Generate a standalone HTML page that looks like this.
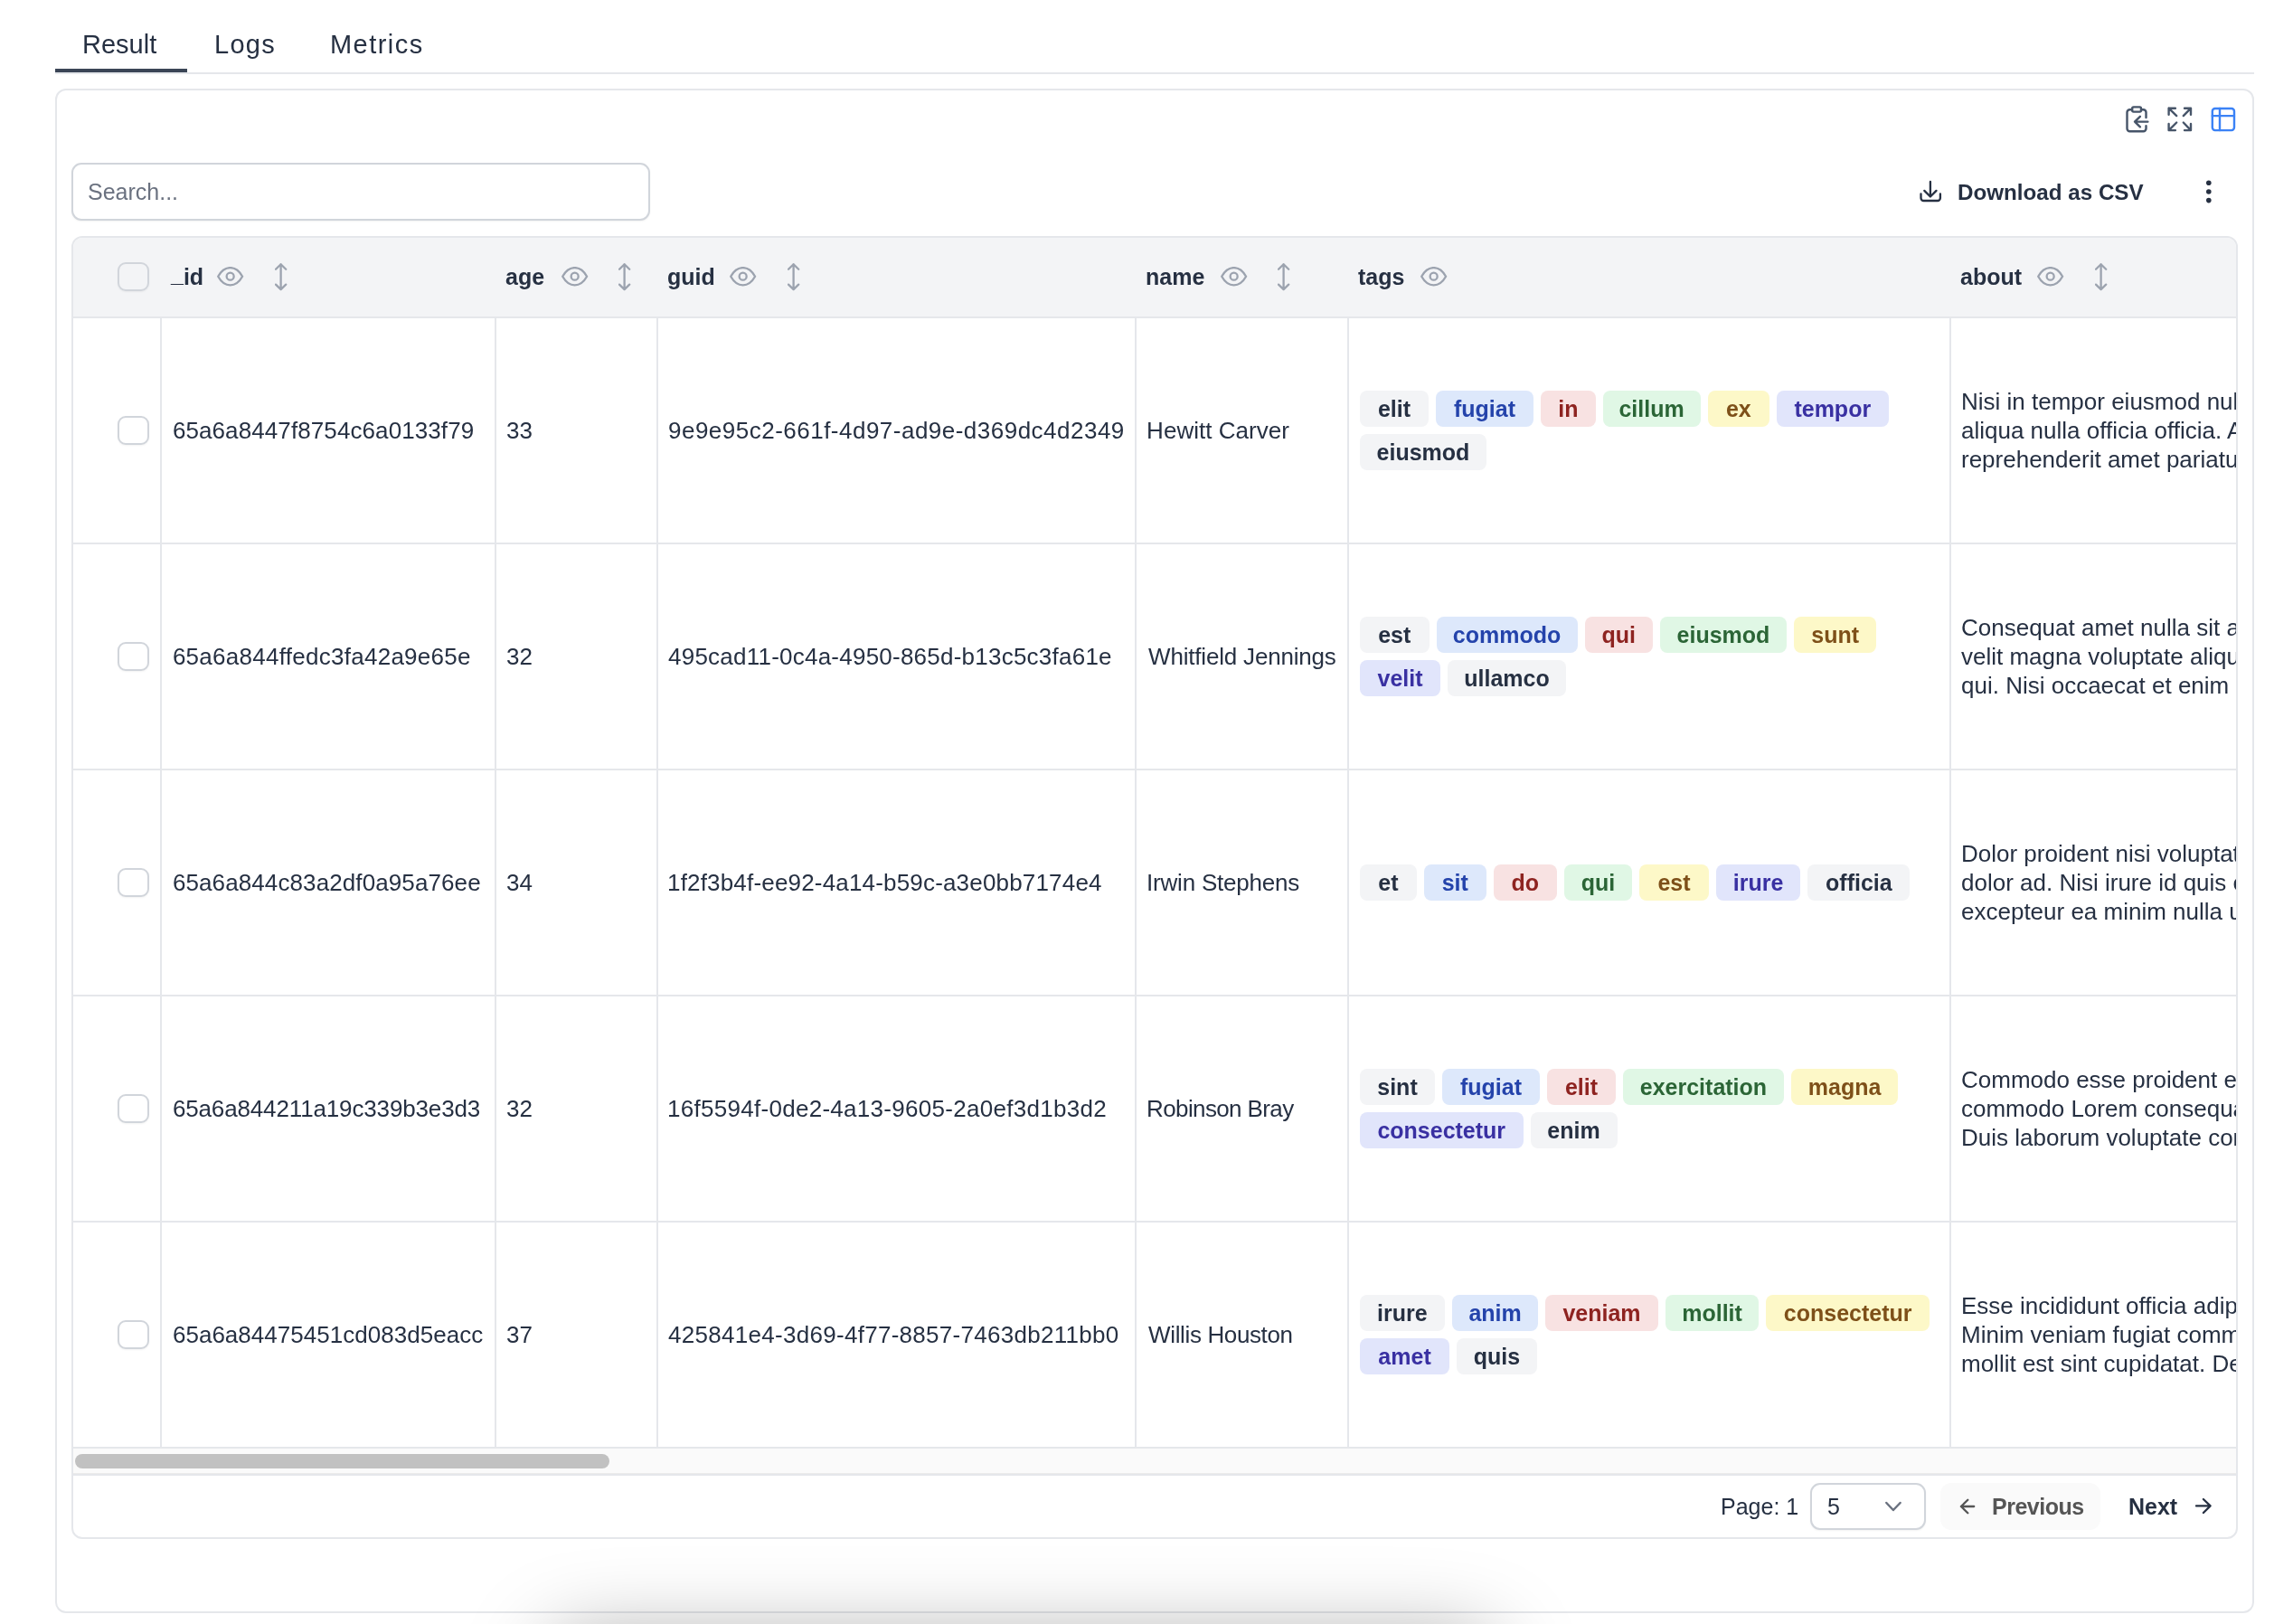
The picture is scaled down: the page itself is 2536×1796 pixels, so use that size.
<!DOCTYPE html>
<html><head><meta charset="utf-8"><title>Result</title>
<style>
*{box-sizing:border-box;margin:0;padding:0}
html,body{width:2536px;height:1796px;overflow:hidden;background:#fff;font-family:"Liberation Sans",sans-serif;color:#263042}
.a{position:absolute}
.tabbar{left:61px;top:0;width:2432px;height:82px;border-bottom:2px solid #e5e7eb}
.tab{position:absolute;top:29px;height:40px;line-height:40px;font-size:29px;color:#263042;white-space:nowrap}
.uline{left:61px;top:76px;width:146px;height:4px;background:#3b4556}
.card{left:61px;top:98px;width:2432px;height:1686px;border:2px solid #e5e7eb;border-radius:12px;background:#fff}
.search{left:79px;top:180px;width:640px;height:64px;border:2px solid #d1d5db;border-radius:11px;box-shadow:0 1px 2px rgba(0,0,0,.05);background:#fff}
.search span{position:absolute;left:16px;top:0;line-height:60px;font-size:25px;color:#6b7280}
.dl{left:2165px;top:193px;height:40px;line-height:40px;font-size:24.2px;font-weight:700;color:#263042;white-space:nowrap}
.tbl{left:79px;top:261px;width:2396px;height:1441px;border:2px solid #e5e7eb;border-radius:12px;overflow:hidden;background:#fff}
.hdr{left:0;top:0;width:2392px;height:89px;background:#f3f4f6;border-bottom:2px solid #e5e7eb}
.hc{position:absolute;top:0;height:87px;display:flex;align-items:center;font-size:25px;font-weight:700;color:#263042;white-space:nowrap}
.eye,.sort{fill:none;stroke:#9ca3af;stroke-width:2.2;stroke-linecap:round;stroke-linejoin:round;flex:none}
.eye{stroke-width:2.3px}
.sort{stroke-width:2.3px}
.row{position:absolute;left:0;width:2392px;height:250px;border-bottom:2px solid #e5e7eb}
.cell{position:absolute;top:0;height:248px;display:flex;align-items:center;border-left:2px solid #e5e7eb;font-size:26px;white-space:nowrap;overflow:hidden;color:#263042}
.cell.cb{border-left:none}
.chk{position:absolute;width:35px;height:32px;border:2px solid #d1d5db;border-radius:9px;background:#fff;box-shadow:0 1px 2px rgba(0,0,0,.05)}
.tagwrap{display:flex;flex-direction:column;gap:8px}
.tagline{display:flex;gap:8px}
.tag{height:40px;line-height:40px;padding:0;text-align:center;border-radius:8px;font-size:25px;font-weight:700;white-space:nowrap;flex:none}
.t-g{background:#f3f4f6;color:#263042}
.t-b{background:#dde8fb;color:#2443ab}
.t-r{background:#f8e2e2;color:#8e2320}
.t-gr{background:#e0f7e5;color:#2b6536}
.t-y{background:#fdf8c8;color:#7e5019}
.t-i{background:#e1e5fb;color:#3930a2}
.about{line-height:32px;font-size:26px}
.sbar{left:0;top:1339px;width:2392px;height:30px;background:#fafafa;border-bottom:2px solid #e5e7eb;box-shadow:inset 0 -1px 0 #ebebeb}
.thumb{left:2px;top:6px;width:591px;height:16px;border-radius:8px;background:#c1c1c1}
.pg{left:1903px;top:1646px;height:40px;line-height:40px;font-size:25px;color:#263042;white-space:nowrap}
.sel{left:2002px;top:1640px;width:128px;height:52px;border:2px solid #d1d5db;border-radius:11px;background:#fff;box-shadow:0 1px 2px rgba(0,0,0,.05)}
.sel span{position:absolute;left:17px;top:4px;line-height:40px;font-size:25px;color:#263042}
.prev{left:2146px;top:1640px;width:177px;height:52px;border-radius:12px;background:#fafafa}
.btxt{position:absolute;height:40px;line-height:40px;font-size:25px;font-weight:700;white-space:nowrap}
.ov{left:0;top:0;width:2536px;height:1796px;pointer-events:none}
.ov .s{fill:none;stroke-linecap:round;stroke-linejoin:round}
@media (max-width:1300px){html,body{width:1268px;height:898px}#root{transform:scale(.5);transform-origin:0 0}}
.shadow{left:605px;top:1810px;width:1050px;height:200px;border-radius:40px;box-shadow:0 0 90px 0 rgba(0,0,0,.34)}
</style></head><body>

<div id="root" class="a" style="left:0;top:0;width:2536px;height:1796px;will-change:transform;overflow:hidden">
<div class="a tabbar"></div>
<div class="tab" style="left:91px">Result</div>
<div class="tab" style="left:237px;letter-spacing:1.3px">Logs</div>
<div class="tab" style="left:365px;letter-spacing:1.45px">Metrics</div>
<div class="a uline"></div>
<div class="a card"></div>
<div class="a search"><span>Search...</span></div>
<div class="a dl">Download as CSV</div>
<div class="a tbl">
<div class="a hdr">
<div class="chk" style="left:49px;top:27px;background:transparent"></div>
<div class="hc" style="left:108px"><span style="position:relative;top:-3px">_</span>id</div>
<svg class="eye" style="position:absolute;left:159.2px;top:32.2px" width="30" height="22" viewBox="0 0 30 22"><path d="M28.1 10.7c-3.59 6.4 -8.07 9.6 -13.45 9.6c-5.38 0 -9.86 -3.2 -13.45 -9.6c3.59 -6.4 8.07 -9.6 13.45 -9.6c5.38 0 9.86 3.2 13.45 9.6" /><circle cx="14.65" cy="10.7" r="4"/></svg>
<svg class="sort" style="position:absolute;left:223.4px;top:27.9px" width="14" height="31" viewBox="0 0 14 31"><path d="M6.6 1.2V29.1M1.0 6.7L6.6 1.2L12.2 6.7M1.0 23.6L6.6 29.1L12.2 23.6"/></svg>
<div class="hc" style="left:478px">age</div>
<svg class="eye" style="position:absolute;left:539.7px;top:32.2px" width="30" height="22" viewBox="0 0 30 22"><path d="M28.1 10.7c-3.59 6.4 -8.07 9.6 -13.45 9.6c-5.38 0 -9.86 -3.2 -13.45 -9.6c3.59 -6.4 8.07 -9.6 13.45 -9.6c5.38 0 9.86 3.2 13.45 9.6" /><circle cx="14.65" cy="10.7" r="4"/></svg>
<svg class="sort" style="position:absolute;left:603.0px;top:27.9px" width="14" height="31" viewBox="0 0 14 31"><path d="M6.6 1.2V29.1M1.0 6.7L6.6 1.2L12.2 6.7M1.0 23.6L6.6 29.1L12.2 23.6"/></svg>
<div class="hc" style="left:657px">guid</div>
<svg class="eye" style="position:absolute;left:726.2px;top:32.2px" width="30" height="22" viewBox="0 0 30 22"><path d="M28.1 10.7c-3.59 6.4 -8.07 9.6 -13.45 9.6c-5.38 0 -9.86 -3.2 -13.45 -9.6c3.59 -6.4 8.07 -9.6 13.45 -9.6c5.38 0 9.86 3.2 13.45 9.6" /><circle cx="14.65" cy="10.7" r="4"/></svg>
<svg class="sort" style="position:absolute;left:790.1px;top:27.9px" width="14" height="31" viewBox="0 0 14 31"><path d="M6.6 1.2V29.1M1.0 6.7L6.6 1.2L12.2 6.7M1.0 23.6L6.6 29.1L12.2 23.6"/></svg>
<div class="hc" style="left:1186px">name</div>
<svg class="eye" style="position:absolute;left:1268.7px;top:32.2px" width="30" height="22" viewBox="0 0 30 22"><path d="M28.1 10.7c-3.59 6.4 -8.07 9.6 -13.45 9.6c-5.38 0 -9.86 -3.2 -13.45 -9.6c3.59 -6.4 8.07 -9.6 13.45 -9.6c5.38 0 9.86 3.2 13.45 9.6" /><circle cx="14.65" cy="10.7" r="4"/></svg>
<svg class="sort" style="position:absolute;left:1332.0px;top:27.9px" width="14" height="31" viewBox="0 0 14 31"><path d="M6.6 1.2V29.1M1.0 6.7L6.6 1.2L12.2 6.7M1.0 23.6L6.6 29.1L12.2 23.6"/></svg>
<div class="hc" style="left:1421px">tags</div>
<svg class="eye" style="position:absolute;left:1490.1px;top:32.2px" width="30" height="22" viewBox="0 0 30 22"><path d="M28.1 10.7c-3.59 6.4 -8.07 9.6 -13.45 9.6c-5.38 0 -9.86 -3.2 -13.45 -9.6c3.59 -6.4 8.07 -9.6 13.45 -9.6c5.38 0 9.86 3.2 13.45 9.6" /><circle cx="14.65" cy="10.7" r="4"/></svg>
<div class="hc" style="left:2087px">about</div>
<svg class="eye" style="position:absolute;left:2172.0px;top:32.2px" width="30" height="22" viewBox="0 0 30 22"><path d="M28.1 10.7c-3.59 6.4 -8.07 9.6 -13.45 9.6c-5.38 0 -9.86 -3.2 -13.45 -9.6c3.59 -6.4 8.07 -9.6 13.45 -9.6c5.38 0 9.86 3.2 13.45 9.6" /><circle cx="14.65" cy="10.7" r="4"/></svg>
<svg class="sort" style="position:absolute;left:2236.0px;top:27.9px" width="14" height="31" viewBox="0 0 14 31"><path d="M6.6 1.2V29.1M1.0 6.7L6.6 1.2L12.2 6.7M1.0 23.6L6.6 29.1L12.2 23.6"/></svg>
</div>
<div class="row" style="top:89px">
<div class="cell cb" style="left:0;width:96px"><div class="chk" style="left:49px;top:108px"></div></div>
<div class="cell" style="left:96px;width:370px;padding-left:11.9px;letter-spacing:0.096px">65a6a8447f8754c6a0133f79</div>
<div class="cell" style="left:466px;width:179px;padding-left:11px">33</div>
<div class="cell" style="left:645px;width:529px;padding-left:11.0px;letter-spacing:0.489px">9e9e95c2-661f-4d97-ad9e-d369dc4d2349</div>
<div class="cell" style="left:1174px;width:235px;padding-left:11.1px;letter-spacing:0.03px">Hewitt Carver</div>
<div class="cell" style="left:1409px;width:666px;padding-left:12px"><div class="tagwrap"><div class="tagline"><span class="tag t-g" style="width:76px">elit</span><span class="tag t-b" style="width:108px">fugiat</span><span class="tag t-r" style="width:60.6px">in</span><span class="tag t-gr" style="width:108px">cillum</span><span class="tag t-y" style="width:68.4px">ex</span><span class="tag t-i" style="width:123.6px">tempor</span></div><div class="tagline"><span class="tag t-g" style="width:140px">eiusmod</span></div></div></div>
<div class="cell" style="left:2075px;width:317px;padding-left:11px"><div class="about">Nisi in tempor eiusmod nulla<br>aliqua nulla officia officia. Aute<br>reprehenderit amet pariatur</div></div>
</div>
<div class="row" style="top:339px">
<div class="cell cb" style="left:0;width:96px"><div class="chk" style="left:49px;top:108px"></div></div>
<div class="cell" style="left:96px;width:370px;padding-left:11.9px;letter-spacing:0.27px">65a6a844ffedc3fa42a9e65e</div>
<div class="cell" style="left:466px;width:179px;padding-left:11px">32</div>
<div class="cell" style="left:645px;width:529px;padding-left:11.0px;letter-spacing:0.234px">495cad11-0c4a-4950-865d-b13c5c3fa61e</div>
<div class="cell" style="left:1174px;width:235px;padding-left:13.1px;letter-spacing:-0.194px">Whitfield Jennings</div>
<div class="cell" style="left:1409px;width:666px;padding-left:12px"><div class="tagwrap"><div class="tagline"><span class="tag t-g" style="width:76.5px">est</span><span class="tag t-b" style="width:156px">commodo</span><span class="tag t-r" style="width:75.5px">qui</span><span class="tag t-gr" style="width:140px">eiusmod</span><span class="tag t-y" style="width:91.3px">sunt</span></div><div class="tagline"><span class="tag t-i" style="width:89px">velit</span><span class="tag t-g" style="width:131px">ullamco</span></div></div></div>
<div class="cell" style="left:2075px;width:317px;padding-left:11px"><div class="about">Consequat amet nulla sit aute<br>velit magna voluptate aliqua<br>qui. Nisi occaecat et enim aute</div></div>
</div>
<div class="row" style="top:589px">
<div class="cell cb" style="left:0;width:96px"><div class="chk" style="left:49px;top:108px"></div></div>
<div class="cell" style="left:96px;width:370px;padding-left:11.9px;letter-spacing:0.104px">65a6a844c83a2df0a95a76ee</div>
<div class="cell" style="left:466px;width:179px;padding-left:11px">34</div>
<div class="cell" style="left:645px;width:529px;padding-left:10.0px;letter-spacing:0.18px">1f2f3b4f-ee92-4a14-b59c-a3e0bb7174e4</div>
<div class="cell" style="left:1174px;width:235px;padding-left:11.1px;letter-spacing:-0.215px">Irwin Stephens</div>
<div class="cell" style="left:1409px;width:666px;padding-left:12px"><div class="tagwrap"><div class="tagline"><span class="tag t-g" style="width:62.8px">et</span><span class="tag t-b" style="width:69px">sit</span><span class="tag t-r" style="width:70px">do</span><span class="tag t-gr" style="width:75.5px">qui</span><span class="tag t-y" style="width:76.5px">est</span><span class="tag t-i" style="width:93.7px">irure</span><span class="tag t-g" style="width:112.8px">officia</span></div></div></div>
<div class="cell" style="left:2075px;width:317px;padding-left:11px"><div class="about">Dolor proident nisi voluptate<br>dolor ad. Nisi irure id quis esse<br>excepteur ea minim nulla ut</div></div>
</div>
<div class="row" style="top:839px">
<div class="cell cb" style="left:0;width:96px"><div class="chk" style="left:49px;top:108px"></div></div>
<div class="cell" style="left:96px;width:370px;padding-left:11.9px;letter-spacing:-0.143px">65a6a844211a19c339b3e3d3</div>
<div class="cell" style="left:466px;width:179px;padding-left:11px">32</div>
<div class="cell" style="left:645px;width:529px;padding-left:10.0px;letter-spacing:0.286px">16f5594f-0de2-4a13-9605-2a0ef3d1b3d2</div>
<div class="cell" style="left:1174px;width:235px;padding-left:11.1px;letter-spacing:-0.625px">Robinson Bray</div>
<div class="cell" style="left:1409px;width:666px;padding-left:12px"><div class="tagwrap"><div class="tagline"><span class="tag t-g" style="width:83px">sint</span><span class="tag t-b" style="width:108px">fugiat</span><span class="tag t-r" style="width:76px">elit</span><span class="tag t-gr" style="width:177.9px">exercitation</span><span class="tag t-y" style="width:118.5px">magna</span></div><div class="tagline"><span class="tag t-i" style="width:180.5px">consectetur</span><span class="tag t-g" style="width:96.1px">enim</span></div></div></div>
<div class="cell" style="left:2075px;width:317px;padding-left:11px"><div class="about">Commodo esse proident ex<br>commodo Lorem consequat<br>Duis laborum voluptate commodo</div></div>
</div>
<div class="row" style="top:1089px">
<div class="cell cb" style="left:0;width:96px"><div class="chk" style="left:49px;top:108px"></div></div>
<div class="cell" style="left:96px;width:370px;padding-left:11.9px;letter-spacing:0.035px">65a6a84475451cd083d5eacc</div>
<div class="cell" style="left:466px;width:179px;padding-left:11px">37</div>
<div class="cell" style="left:645px;width:529px;padding-left:11.0px;letter-spacing:0.289px">425841e4-3d69-4f77-8857-7463db211bb0</div>
<div class="cell" style="left:1174px;width:235px;padding-left:13.1px;letter-spacing:-0.369px">Willis Houston</div>
<div class="cell" style="left:1409px;width:666px;padding-left:12px"><div class="tagwrap"><div class="tagline"><span class="tag t-g" style="width:93.7px">irure</span><span class="tag t-b" style="width:95.8px">anim</span><span class="tag t-r" style="width:124.1px">veniam</span><span class="tag t-gr" style="width:103.9px">mollit</span><span class="tag t-y" style="width:180.5px">consectetur</span></div><div class="tagline"><span class="tag t-i" style="width:99.1px">amet</span><span class="tag t-g" style="width:88.5px">quis</span></div></div></div>
<div class="cell" style="left:2075px;width:317px;padding-left:11px"><div class="about">Esse incididunt officia adipisicing<br>Minim veniam fugiat commodo<br>mollit est sint cupidatat. Deserunt</div></div>
</div>
<div class="a sbar"><div class="a thumb"></div></div>
</div>
<div class="a pg">Page: 1</div>
<div class="a sel"><span>5</span></div>
<div class="a prev"></div>
<div class="btxt" style="left:2203px;top:1646px;color:#555;letter-spacing:-0.5px">Previous</div>
<div class="btxt" style="left:2354px;top:1646px;color:#263042">Next</div>
<div class="a shadow"></div>
<svg class="a ov" width="2536" height="1796" viewBox="0 0 2536 1796">
<g class="s" stroke="#475569" stroke-width="2.4">
<path d="M2357.7 121.2H2355.5A3 3 0 0 0 2352.5 124.2V142.3A3 3 0 0 0 2355.5 145.3H2370.5A3 3 0 0 0 2373.5 142.3V139.2M2373.5 130V124.2A3 3 0 0 0 2370.5 121.2H2368"/>
<rect x="2358.2" y="118.4" width="9.8" height="5.2" rx="1.5"/>
<path d="M2375.4 134.6H2361M2366.9 128.8L2361 134.6L2366.9 140.3"/>
<path d="M2398.6 126.7V119.7H2405.9M2398.6 119.7L2407.2 128.1M2423 126.7V119.7H2416M2423 119.7L2414.8 128.1M2398.6 137V144.1H2405.9M2398.6 144.1L2407.2 135.5M2423 137V144.1H2416M2423 144.1L2414.8 135.5"/>
</g>
<g class="s" stroke="#3b82f6" stroke-width="2.4">
<rect x="2446.8" y="120" width="24.2" height="24.1" rx="3"/>
<path d="M2446.8 128.1H2471M2455 120V144.1"/>
</g>
<g class="s" stroke="#263042" stroke-width="2.3">
<path d="M2124.5 214.4V219A3 3 0 0 0 2127.5 222H2142.9A3 3 0 0 0 2145.9 219V214.4"/>
<path d="M2134.9 201V217.5M2128.3 210.9L2134.9 217.5L2141.5 210.9"/>
</g>
<g fill="#263042"><circle cx="2442.8" cy="202.3" r="2.8"/><circle cx="2442.8" cy="212" r="2.8"/><circle cx="2442.8" cy="221.6" r="2.8"/></g>
<path class="s" stroke="#6b7280" stroke-width="2.5" d="M2086.3 1662L2093.9 1670L2101.6 1662"/>
<path class="s" stroke="#555555" stroke-width="2.3" d="M2183.2 1666H2168.9M2176.3 1658.8L2168.9 1666L2176.3 1673.2"/>
<path class="s" stroke="#263042" stroke-width="2.3" d="M2429 1665.4H2444.6M2436.9 1658L2444.6 1665.4L2436.9 1673"/>
</svg>

</div></body></html>
